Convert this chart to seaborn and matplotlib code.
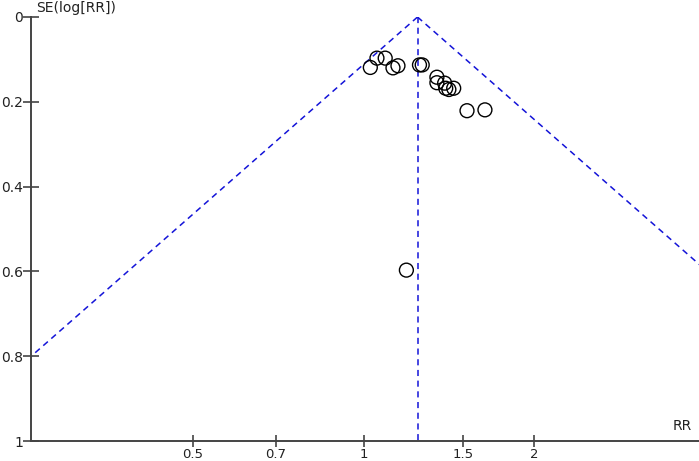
import numpy as np
import pandas as pd
import matplotlib
matplotlib.use("Agg")
import matplotlib.pyplot as plt
import seaborn as sns

# study estimates
rr = [1.028, 1.056, 1.092, 1.127, 1.150, 1.255, 1.269, 1.347, 1.347,
      1.390, 1.396, 1.414, 1.442, 1.522, 1.637, 1.190]
se = [0.119, 0.097, 0.097, 0.120, 0.115, 0.113, 0.113, 0.142, 0.155,
      0.156, 0.168, 0.171, 0.168, 0.221, 0.219, 0.597]
pooled_rr = 1.245
x_ticks = [0.5, 0.7, 1, 1.5, 2]
y_ticks = [0, 0.2, 0.4, 0.6, 0.8, 1]

df = pd.DataFrame({"rr": rr, "se": se})

sns.set_style("white")
plt.rcParams['font.family'] = ['DejaVu Sans']

fig = plt.figure(figsize=(6.99, 4.61), dpi=100)
ax = fig.add_axes([31 / 699, 20 / 461, 1 - 31 / 699, 424 / 461])

axis_col = "#444444"
line_col = "#1414d8"

# funnel lines (95% limits)
se_line = np.array([0.0, 1.0])
lp = np.log(pooled_rr)
ax.plot(np.exp(lp - 1.96 * se_line), se_line, ls=(0, (4, 3)), color=line_col, lw=1.1)
ax.plot(np.exp(lp + 1.96 * se_line), se_line, ls=(0, (4, 3)), color=line_col, lw=1.1)
ax.plot([pooled_rr, pooled_rr], [0, 1], ls=(0, (4, 3)), color=line_col, lw=1.1)

sns.scatterplot(data=df, x="rr", y="se", ax=ax, marker="o", s=100,
                facecolors="none", edgecolor="black", linewidth=1.0, zorder=3)

ax.set_xscale("log")
ax.set_xlim(0.2593, 3.903)
ax.set_ylim(1, 0)
ax.set_xticks(x_ticks)
ax.set_xticklabels(["0.5", "0.7", "1", "1.5", "2"])
ax.minorticks_off()
ax.set_yticks(y_ticks)
ax.set_yticklabels(["0", "0.2", "0.4", "0.6", "0.8", "1"])
ax.set_xlabel("")
ax.set_ylabel("")

for side in ["top", "right"]:
    ax.spines[side].set_visible(False)
for side in ["left", "bottom"]:
    ax.spines[side].set_color(axis_col)
    ax.spines[side].set_linewidth(1.4)
ax.tick_params(axis="both", which="major", bottom=True, left=True,
               direction="inout", length=10, width=1.2,
               color=axis_col, labelcolor="#222222", labelsize=10)
ax.tick_params(axis="x", length=9, pad=0.5, labelsize=9.5)
ax.tick_params(axis="y", length=11, pad=0)

ax.text(0.008, 1.004, "SE(log[RR])", transform=ax.transAxes, ha="left", va="bottom",
        fontsize=10, color="#222222")
ax.text(0.99, 0.018, "RR", transform=ax.transAxes, ha="right", va="bottom",
        fontsize=10, color="#222222")

fig.savefig("out.png", dpi=100)
